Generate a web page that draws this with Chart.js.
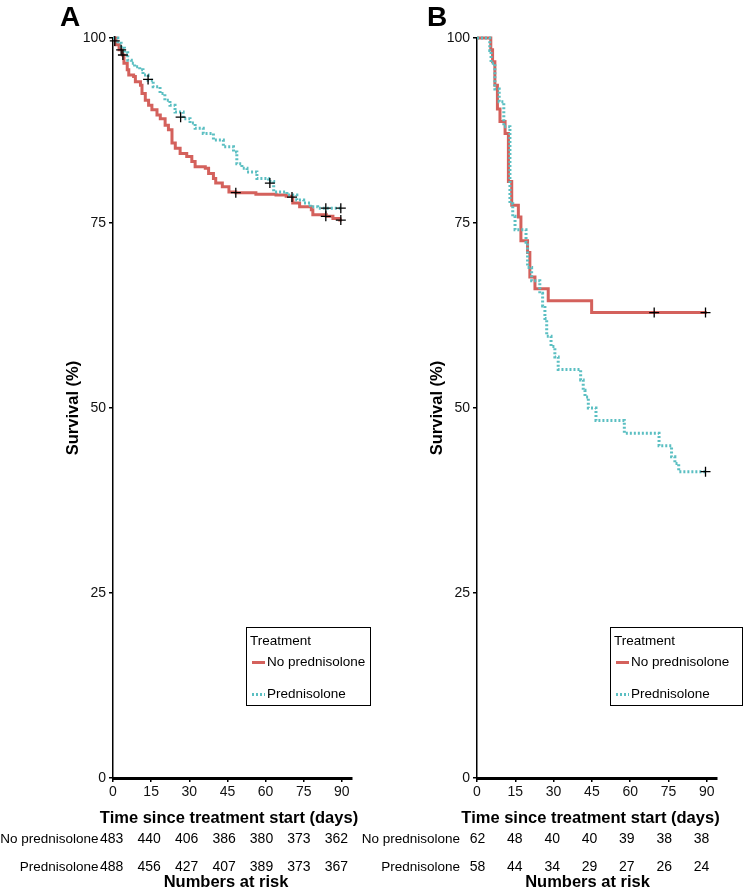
<!DOCTYPE html>
<html><head><meta charset="utf-8">
<script src="https://cdn.jsdelivr.net/npm/chart.js@4"></script>
<style>
body{margin:0;background:#fff;width:749px;height:891px;overflow:hidden;position:relative}
canvas{position:absolute;top:0}
</style></head>
<body>
<canvas id="ca" width="380" height="891" style="left:0px;width:380px;height:891px"></canvas>
<canvas id="cb" width="394" height="891" style="left:355px;width:394px;height:891px"></canvas>
<script>
// ---------------- DATA ----------------
const xTicks = [0, 15, 30, 45, 60, 75, 90];
const yTicks = [0, 25, 50, 75, 100];
const groups = ["No prednisolone", "Prednisolone"];

// Panel A
const aNoPredTime = [0, 1.1, 2.4, 3.7, 4.3, 5.6, 6.2, 8.1, 8.8, 10.8, 11.4, 12.7, 14.0, 15.3, 17.3, 18.6, 20.5, 21.8, 23.2, 24.5, 26.4, 29.0, 31.0, 32.3, 36.3, 37.6, 39.5, 40.4, 43.0, 45.6, 48.3, 56.2, 64.1, 68.1, 70.7, 73.4, 78.0, 78.6, 83.9, 86.5, 89.2, 90];
const aNoPredSurv = [100, 99.1, 98.4, 97.7, 96.6, 95.7, 95.0, 94.8, 94.1, 93.6, 92.5, 91.6, 90.9, 90.3, 89.6, 89.1, 88.2, 87.6, 85.8, 85.1, 84.4, 84.0, 83.3, 82.6, 82.4, 81.7, 81.0, 80.4, 79.9, 79.2, 79.1, 78.9, 78.8, 78.6, 77.7, 77.2, 76.8, 76.1, 75.9, 75.6, 75.4, 75.4];
const aNoPredCensorTime = [3.2, 3.9, 48.3, 83.7, 89.6];
const aNoPredCensorSurv = [98.4, 97.7, 79.1, 75.9, 75.4];

const aPredTime = [0, 1.9, 3.2, 4.5, 5.8, 7.2, 8.5, 10.5, 11.8, 13.8, 15.8, 18.5, 20.4, 22.4, 24.4, 27.6, 30.3, 32.3, 35.5, 39.5, 43.4, 47.4, 48.7, 50.7, 52.7, 56.6, 61.2, 63.2, 68.4, 72.3, 75.0, 77.6, 80.5, 90];
const aPredSurv = [100, 99.3, 98.6, 98.0, 97.0, 96.6, 96.1, 95.7, 95.0, 94.3, 93.4, 92.5, 91.6, 90.9, 90.0, 89.1, 88.5, 87.8, 87.1, 86.2, 85.3, 84.6, 83.0, 82.4, 81.9, 81.0, 80.6, 79.2, 78.8, 78.1, 77.7, 77.2, 77.0, 77.0];
const aPredCensorTime = [0.7, 13.8, 26.6, 61.7, 70.4, 83.7, 89.6];
const aPredCensorSurv = [99.6, 94.4, 89.3, 80.4, 78.5, 77.0, 77.0];

const aRiskNoPred = [483, 440, 406, 386, 380, 373, 362];
const aRiskPred = [488, 456, 427, 407, 389, 373, 367];

// Panel B
const bNoPredTime = [0, 5.4, 6.1, 7.0, 8.0, 9.0, 11.0, 12.3, 13.6, 16.2, 17.2, 19.8, 20.7, 22.7, 27.9, 44.9, 90];
const bNoPredSurv = [100, 98.4, 96.8, 93.6, 90.4, 88.7, 87.1, 80.6, 77.4, 75.8, 72.6, 71.0, 67.7, 66.1, 64.5, 62.9, 62.9];
const bNoPredCensorTime = [69.4, 89.5];
const bNoPredCensorSurv = [62.9, 62.9];

const bPredTime = [0, 5.0, 5.5, 7.0, 8.7, 10.5, 12.9, 14.0, 14.9, 19.2, 19.8, 21.4, 24.6, 25.7, 26.6, 27.3, 29.0, 30.5, 31.8, 40.6, 41.6, 42.3, 43.6, 46.6, 57.7, 71.3, 76.2, 77.5, 79.0, 90];
const bPredSurv = [100, 98.3, 96.6, 93.1, 91.4, 88.0, 77.6, 75.9, 74.1, 72.4, 69.0, 67.2, 65.5, 63.8, 62.1, 59.7, 58.3, 56.9, 55.2, 53.8, 52.4, 51.5, 50.0, 48.3, 46.6, 44.9, 43.4, 42.5, 41.4, 41.4];
const bPredCensorTime = [89.5];
const bPredCensorSurv = [41.4];

const bRiskNoPred = [62, 48, 40, 40, 39, 38, 38];
const bRiskPred = [58, 44, 34, 29, 27, 26, 24];

// ---------------- STYLE ----------------
const RED = '#D4615C';
const CYAN = '#5BBFC2';
const F = '"Liberation Sans", Arial, Helvetica, sans-serif';

function pts(t, s) { return t.map((v, i) => ({ x: v, y: s[i] })); }

const decor = {
  id: 'decor',
  afterDraw(chart, args, o) {
    const ctx = chart.ctx;
    const xs = chart.scales.x;
    const ca = chart.chartArea;
    ctx.save();
    ctx.fillStyle = '#000';
    // panel letter
    ctx.font = 'bold 28px ' + F;
    ctx.textAlign = 'center';
    ctx.textBaseline = 'alphabetic';
    ctx.fillText(o.letter, o.letterX, 26);
    // y title
    ctx.save();
    ctx.translate(o.yTitleX, (ca.top + ca.bottom) / 2);
    ctx.rotate(-Math.PI / 2);
    ctx.font = 'bold 16.5px ' + F;
    ctx.textBaseline = 'middle';
    ctx.textAlign = 'center';
    ctx.fillText('Survival (%)', 0, 0);
    ctx.restore();
    // x title
    ctx.font = 'bold 16.5px ' + F;
    ctx.textAlign = 'center';
    ctx.textBaseline = 'middle';
    ctx.fillText('Time since treatment start (days)', o.xTitleX, 818);
    // risk table
    const x0 = xs.getPixelForValue(0) + o.riskShift;
    const step = (xs.getPixelForValue(90) - xs.getPixelForValue(0)) / 6 * o.riskScale;
    const rows = [[groups[0], o.risk[0], 839], [groups[1], o.risk[1], 867]];
    rows.forEach(r => {
      ctx.font = '13.5px ' + F;
      ctx.textAlign = 'right';
      ctx.fillText(r[0], o.labelRight, r[2]);
      ctx.font = '14px ' + F;
      ctx.textAlign = 'center';
      r[1].forEach((v, i) => ctx.fillText(String(v), x0 + i * step, r[2]));
    });
    ctx.font = 'bold 16.5px ' + F;
    ctx.textAlign = 'center';
    ctx.fillText('Numbers at risk', o.xTitleX - 3, 882);
    // legend
    const L = o.legend;
    ctx.fillStyle = '#fff';
    ctx.fillRect(L.x, L.y, L.w, L.h);
    ctx.strokeStyle = '#000';
    ctx.lineWidth = 1;
    ctx.strokeRect(L.x + 0.5, L.y + 0.5, L.w, L.h);
    ctx.fillStyle = '#000';
    ctx.font = '13.5px ' + F;
    ctx.textAlign = 'left';
    ctx.textBaseline = 'middle';
    ctx.fillText('Treatment', L.x + 4, L.y + 14);
    ctx.fillText(groups[0], L.x + 21, L.y + 35);
    ctx.fillText(groups[1], L.x + 21, L.y + 67);
    ctx.lineWidth = 3;
    ctx.strokeStyle = RED;
    ctx.beginPath(); ctx.moveTo(L.x + 6, L.y + 35.5); ctx.lineTo(L.x + 19, L.y + 35.5); ctx.stroke();
    ctx.strokeStyle = CYAN;
    ctx.setLineDash([2, 2]);
    ctx.beginPath(); ctx.moveTo(L.x + 6, L.y + 67.5); ctx.lineTo(L.x + 19, L.y + 67.5); ctx.stroke();
    ctx.restore();
  }
};

function makeChart(id, d) {
  return new Chart(document.getElementById(id), {
    type: 'line',
    data: {
      datasets: [
        { type: 'scatter', data: pts(d.c1t, d.c1s).concat(pts(d.c2t, d.c2s)), pointStyle: 'cross', pointRadius: 5, borderColor: '#000', backgroundColor: '#000', borderWidth: 1.3, order: 0, clip: false, showLine: false },
        { data: pts(d.pt, d.ps), borderColor: CYAN, borderWidth: 3, borderDash: [2, 2], stepped: true, pointRadius: 0, fill: false, order: 1, clip: false },
        { data: pts(d.nt, d.ns), borderColor: RED, borderWidth: 3, stepped: true, pointRadius: 0, fill: false, order: 2, clip: false }
      ]
    },
    options: {
      responsive: false,
      animation: false,
      layout: { padding: { left: 0, top: 38, right: d.padRight, bottom: 0 } },
      plugins: { legend: { display: false }, tooltip: { enabled: false }, decor: d.decor },
      scales: {
        x: {
          type: 'linear', min: 0, max: 94,
          afterBuildTicks: s => { s.ticks = xTicks.map(v => ({ value: v })); },
          afterFit: s => { s.height = 113; },
          border: { display: true, color: '#000', width: 3 },
          grid: { display: true, drawOnChartArea: false, drawTicks: true, tickLength: 4, color: '#000', lineWidth: 1.5 },
          ticks: { font: { size: 14, family: F }, color: '#111', padding: 2, maxRotation: 0, autoSkip: false }
        },
        y: {
          type: 'linear', min: 0, max: 100,
          afterBuildTicks: s => { s.ticks = yTicks.map(v => ({ value: v })); },
          afterFit: s => { s.width = d.yWidth; },
          border: { display: true, color: '#000', width: 1.5 },
          grid: { display: true, drawOnChartArea: false, drawTicks: true, tickLength: 4, color: '#000', lineWidth: 1.5 },
          ticks: { font: { size: 14, family: F }, color: '#111', padding: 3 }
        }
      }
    },
    plugins: [decor]
  });
}

makeChart('ca', {
  nt: aNoPredTime, ns: aNoPredSurv, pt: aPredTime, ps: aPredSurv,
  c1t: aNoPredCensorTime, c1s: aNoPredCensorSurv, c2t: aPredCensorTime, c2s: aPredCensorSurv,
  padRight: 380 - 352, yWidth: 113,
  decor: { letter: 'A', letterX: 70, yTitleX: 73, xTitleX: 229, risk: [aRiskNoPred, aRiskPred], riskShift: -1.3, riskScale: 0.982, labelRight: 98.5,
    legend: { x: 246, y: 627, w: 124, h: 78 } }
});

makeChart('cb', {
  nt: bNoPredTime, ns: bNoPredSurv, pt: bPredTime, ps: bPredSurv,
  c1t: bNoPredCensorTime, c1s: bNoPredCensorSurv, c2t: bPredCensorTime, c2s: bPredCensorSurv,
  padRight: 394 - 362, yWidth: 122,
  decor: { letter: 'B', letterX: 437 - 355, yTitleX: 437 - 355, xTitleX: 590.5 - 355, risk: [bRiskNoPred, bRiskPred], riskShift: 0.5, riskScale: 0.975, labelRight: 460 - 355,
    legend: { x: 610 - 355, y: 627, w: 132, h: 78 } }
});
</script>
</body></html>
